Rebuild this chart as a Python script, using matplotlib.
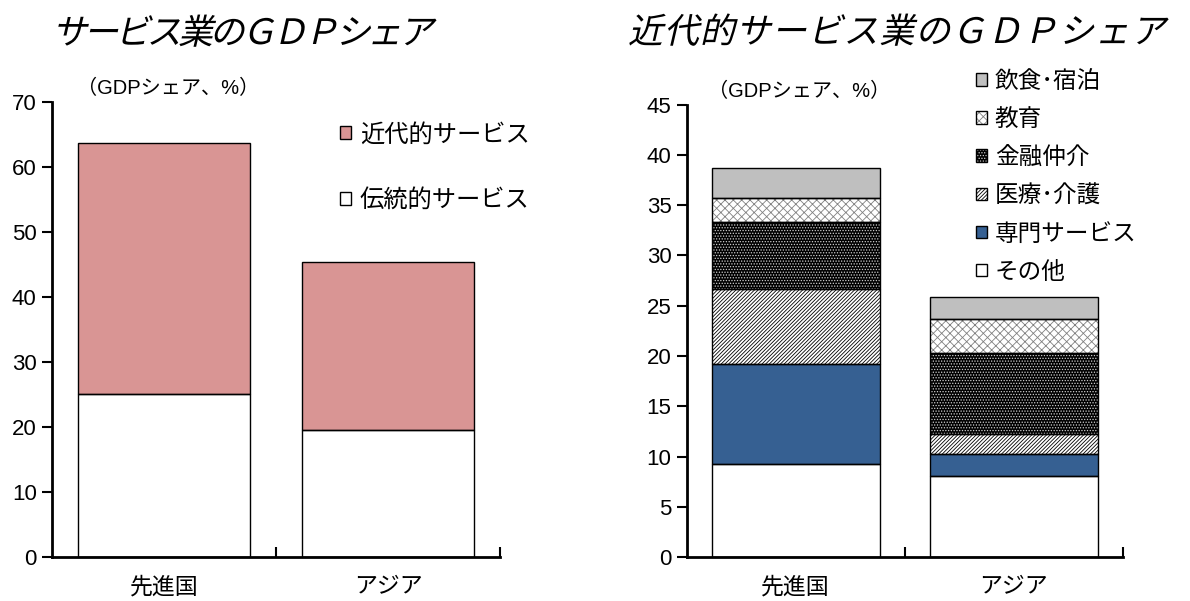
import matplotlib
matplotlib.use("Agg")
import matplotlib.pyplot as plt
from matplotlib.font_manager import FontProperties
from matplotlib.textpath import TextPath
from matplotlib.patches import PathPatch, Patch
from matplotlib.path import Path
from matplotlib.transforms import Affine2D
from matplotlib.legend_handler import HandlerTuple
import numpy as np

plt.rcParams["font.family"] = ["Liberation Sans", "Noto Sans CJK JP"]
plt.rcParams["hatch.linewidth"] = 0.6

# data
regions = ["先進国", "アジア"]

# left panel: service share of GDP
traditional = [25.2, 19.6]
modern = [38.6, 25.8]
left_labels = ["伝統的サービス", "近代的サービス"]

# right panel: modern service breakdown
sectors = ["その他", "専門サービス", "医療･介護", "金融仲介", "教育", "飲食･宿泊"]
other = [9.3, 8.1]
professional = [9.9, 2.2]
health = [7.5, 2.0]
finance = [6.6, 8.0]
education = [2.4, 3.4]
food = [3.0, 2.2]

W, H = 1190, 601
fig = plt.figure(figsize=(W / 100, H / 100), dpi=100)
px = Affine2D().scale(1 / W, 1 / H) + fig.transFigure


def italic_title(text, x0, baseline, size_px, advance):
    # matplotlib has no oblique CJK face, so slant the glyph outlines
    fp = FontProperties(family="Noto Sans CJK JP")
    verts, codes = [], []
    for i, ch in enumerate(text):
        tp = TextPath((i * advance, 0), ch, size=size_px, prop=fp)
        verts.append(tp.vertices)
        codes.append(tp.codes)
    path = Path(np.vstack(verts), np.concatenate(codes))
    tr = Affine2D().skew_deg(13, 0).translate(x0, H - baseline) + px
    fig.add_artist(PathPatch(path, transform=tr, fc="black", ec="none", lw=0))


def draw_bar(ax, x, h, b, fc, hatch=None, hc=None):
    ax.bar(x, h, bottom=b, width=0.77, color=fc, hatch=hatch,
           edgecolor=hc if hc else fc, linewidth=0, zorder=2)
    ax.bar(x, h, bottom=b, width=0.77, fill=False, edgecolor="black",
           linewidth=1.0, zorder=3)


def style_axis(ax, ymax, step, unit_x):
    ax.set_xlim(-0.5, 1.5)
    ax.set_ylim(0, ymax)
    ax.set_yticks(np.arange(0, ymax + 0.1, step))
    ax.spines["top"].set_visible(False)
    ax.spines["right"].set_visible(False)
    ax.spines["left"].set_linewidth(2)
    ax.spines["bottom"].set_linewidth(2)
    ax.set_xticks([0, 1])
    ax.set_xticklabels(regions, fontsize=16.5)
    ax.set_xticks([0.5, 1.5], minor=True)
    ax.tick_params(axis="x", which="major", length=0, pad=13)
    ax.tick_params(axis="x", which="minor", direction="in", length=7, width=1.5)
    ax.tick_params(axis="y", direction="out", length=7, width=1.5,
                   labelsize=16, pad=4)
    ax.text(unit_x, 1.03, "（GDPシェア、%）", transform=ax.transAxes,
            fontsize=14.5, va="center", ha="left")


x = np.arange(len(regions))

# left panel
ax1 = fig.add_axes([52 / W, 1 - 557.3 / H, 448 / W, 455 / H])
for i in x:
    draw_bar(ax1, i, traditional[i], 0, "white")
    draw_bar(ax1, i, modern[i], traditional[i], "#D99594")
style_axis(ax1, 70, 10, 0.055)
h_mod = (Patch(fc="#D99594", ec="black", lw=1),)
h_trad = (Patch(fc="white", ec="black", lw=1),)
ax1.legend([h_mod, h_trad], ["近代的サービス", "伝統的サービス"],
           handler_map={tuple: HandlerTuple(ndivide=1)},
           loc="upper left", bbox_to_anchor=(0.622, 0.975), frameon=False,
           fontsize=17.5, handlelength=0.45, handleheight=0.45,
           handletextpad=0.35, labelspacing=1.75, borderaxespad=0)

# right panel
ax2 = fig.add_axes([686.7 / W, 1 - 557.3 / H, 436 / W, 452.7 / H])
styles = [
    ("white", None, None),
    ("#366092", None, None),
    ("white", "/////////", "black"),
    ("black", "......", "#d0d0d0"),
    ("white", "xxxx", "#808080"),
    ("#BFBFBF", None, None),
]
series = [other, professional, health, finance, education, food]
for i in x:
    bottom = 0
    for vals, (fc, hatch, hc) in zip(series, styles):
        draw_bar(ax2, i, vals[i], bottom, fc, hatch, hc)
        bottom += vals[i]
style_axis(ax2, 45, 5, 0.05)

handles = []
for fc, hatch, hc in styles:
    parts = [Patch(fc=fc, ec=hc if hc else fc, hatch=hatch, lw=0),
             Patch(fill=False, ec="black", lw=1)]
    handles.append(tuple(parts))
ax2.legend(handles[::-1], sectors[::-1],
           handler_map={tuple: HandlerTuple(ndivide=1)},
           loc="upper left", bbox_to_anchor=(0.642, 1.095), frameon=False,
           fontsize=17, handlelength=0.45, handleheight=0.45,
           handletextpad=0.35, labelspacing=0.68, borderaxespad=0)

# titles
italic_title("サービス業のＧＤＰシェア", 52, 44, 35, 31.5)
italic_title("近代的サービス業のＧＤＰシェア", 628, 43, 35, 35.9)

fig.savefig("out.png", dpi=100)
